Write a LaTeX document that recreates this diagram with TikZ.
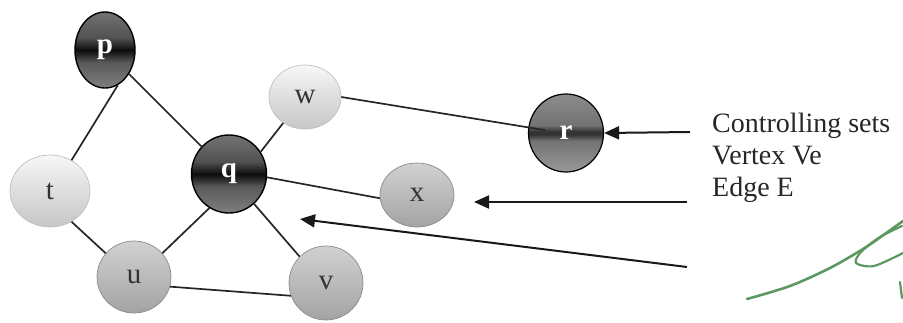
\documentclass[tikz,border=0pt]{standalone}
\usepackage{fontspec}
\setmainfont{Liberation Serif}
\usetikzlibrary{arrows.meta,positioning,calc,shapes.geometric}

\definecolor{inkgreen}{rgb}{0.36,0.6,0.38}
% shadings of the vertices (bottom to top)
\pgfdeclareverticalshading{darkshade}{100bp}{color(0bp)=(black!50); color(25bp)=(black!50);
  color(42bp)=(black!65); color(47bp)=(black!85); color(50bp)=(black!95); color(53bp)=(black!85);
  color(58bp)=(black!68); color(75bp)=(black!55); color(100bp)=(black!55)}
\pgfdeclareverticalshading{redshade}{100bp}{color(0bp)=(black!40); color(25bp)=(black!40);
  color(45bp)=(black!55); color(49bp)=(black!80); color(51bp)=(black!80); color(55bp)=(black!55);
  color(75bp)=(black!45); color(100bp)=(black!45)}
\pgfdeclareverticalshading{midshade}{100bp}{color(0bp)=(black!36); color(25bp)=(black!36);
  color(50bp)=(black!27); color(75bp)=(black!18); color(100bp)=(black!18)}
\pgfdeclareverticalshading{lightshade}{100bp}{color(0bp)=(black!22); color(25bp)=(black!22);
  color(50bp)=(black!13); color(75bp)=(black!3); color(100bp)=(black!3)}

\tikzset{
  ball/.style={ellipse,inner sep=0pt,font=\fontsize{29}{29}\selectfont},
  darkball/.style={ball,shading=darkshade,draw=black,line width=1.4pt,text=white,font=\fontsize{29}{29}\selectfont\bfseries},
  midball/.style={ball,shading=midshade,draw=black!45,line width=0.7pt,text=black!80},
  lightball/.style={ball,shading=lightshade,draw=black!25,line width=0.7pt,text=black!80},
  edge/.style={line width=1.7pt,black!85},
  pointer/.style={->,line width=2pt,black!90},
  scribble/.style={inkgreen,line width=2.6pt,line cap=round,line join=round},
  legendtext/.style={anchor=base west,inner sep=0pt,font=\fontsize{28}{32}\selectfont,text=black!85}
}

\begin{document}
\begin{tikzpicture}[>={Triangle[length=15pt,width=13pt]},x=1pt,y=-1pt]
\useasboundingbox (0,0) rectangle (903,322);

% vertices
\node[darkball,minimum width=60pt,minimum height=76pt] (p) at (105,50) {p};
\node[darkball,minimum width=75pt,minimum height=78pt] (q) at (229,174) {q};
\node[darkball,shading=redshade,line width=1.2pt,minimum width=75pt,minimum height=78pt] (r) at (566,133) {r};
\node[lightball,minimum width=72pt,minimum height=64pt] (w) at (305,97) {w};
\node[lightball,minimum width=80pt,minimum height=72pt] (t) at (50,191) {t};
\node[midball,minimum width=74pt,minimum height=64pt] (x) at (417,195) {x};
\node[midball,minimum width=74pt,minimum height=72pt] (u) at (134,277) {u};
\node[midball,minimum width=74pt,minimum height=74pt] (v) at (326,283) {v};

% edges of the graph
\foreach \a/\b in {p.-70/t.55, p/q, w.-130/q.35, q.-5/x.185, q.-120/u.40,
                   q.-50/v.135, t.-55/u.140, u.-15/v.200}{
  \draw[edge] (\a) -- (\b);
}
% edge from w running into r
\draw[edge] (w.east) -- ($(w.center)!0.92!(r.center)$);

% legend
\node[legendtext] (ctl) at (712,132) {Controlling sets};
\node[legendtext] (vtx) at (712,164) {Vertex Ve};
\node[legendtext] (edg) at (712,196) {Edge E};

% pointers
\coordinate (s1) at (690,132);
\coordinate (s2) at (687,202);
\coordinate (e2) at (474,202);
\coordinate (s3) at (687,267);
\coordinate (e3) at (300,219);
\draw[pointer] (s1) -- (r.east);
\draw[pointer] (s2) -- (e2);
\draw[pointer] (s3) -- (e3);

% green scribble
\draw[scribble] plot[smooth] coordinates {(747,299) (790,286) (830,268) (863,249) (882,236) (903,221)};
\draw[scribble,line width=2.2pt]
  plot[smooth] coordinates {(902,226) (880,237) (861,252) (856,263) (874,266) (903,253)};
\draw[scribble,line width=2.2pt] (900,282) -- (902,298);
\end{tikzpicture}
\end{document}
